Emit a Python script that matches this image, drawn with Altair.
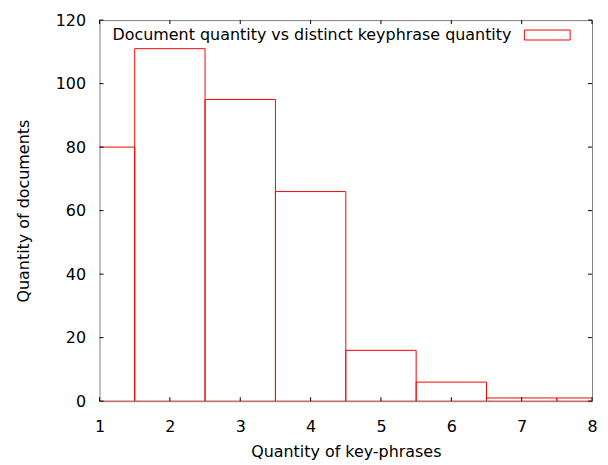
import altair as alt
import pandas as pd

# Data
keyphrases = [1, 2, 3, 4, 5, 6, 7, 8]
documents = [80, 111, 95, 66, 16, 6, 1, 1]
series_name = "Document quantity vs distinct keyphrase quantity"
x_ticks = [1, 2, 3, 4, 5, 6, 7, 8]
y_ticks = [0, 20, 40, 60, 80, 100, 120]

FONT = "DejaVu Sans"
FS = 16
W, H = 495, 383
TICK = 4

bars = pd.DataFrame({"k": keyphrases, "n": documents})
bars["k0"] = bars["k"] - 0.5
bars["k1"] = bars["k"] + 0.5

xscale = alt.Scale(domain=[1, 8], nice=False, zero=False)
yscale = alt.Scale(domain=[0, 120], nice=False)

xaxis = alt.Axis(values=x_ticks, format="d", ticks=False, domain=False, grid=False,
                 labelFont=FONT, labelFontSize=FS, labelColor="black",
                 labelPadding=17, title="Quantity of key-phrases",
                 titleFont=FONT, titleFontSize=FS, titleFontWeight="normal",
                 titleColor="black", titlePadding=10, labelFlush=False)
yaxis = alt.Axis(values=y_ticks, format="d", ticks=False, domain=False, grid=False,
                 labelFont=FONT, labelFontSize=FS, labelColor="black",
                 labelPadding=14, title="Quantity of documents",
                 titleFont=FONT, titleFontSize=FS, titleFontWeight="normal",
                 titleColor="black", titlePadding=24)

base = alt.Chart(bars)

hist = base.mark_rect(stroke="#ff0000", strokeWidth=1, fillOpacity=0, clip=True).encode(
    x=alt.X("k0:Q", scale=xscale, axis=xaxis),
    x2="k1:Q",
    y=alt.Y("n:Q", scale=yscale, axis=yaxis),
    y2=alt.datum(0),
)

xt = pd.DataFrame({"t": x_ticks})
yt = pd.DataFrame({"t": y_ticks})

xtick_bottom = alt.Chart(xt).mark_rule(color="black", strokeWidth=1).encode(
    x=alt.X("t:Q", scale=xscale), y=alt.value(H), y2=alt.value(H - TICK))
xtick_top = alt.Chart(xt).mark_rule(color="black", strokeWidth=1).encode(
    x=alt.X("t:Q", scale=xscale), y=alt.value(0), y2=alt.value(TICK))
ytick_left = alt.Chart(yt).mark_rule(color="black", strokeWidth=1).encode(
    y=alt.Y("t:Q", scale=yscale), x=alt.value(0), x2=alt.value(TICK))
ytick_right = alt.Chart(yt).mark_rule(color="black", strokeWidth=1).encode(
    y=alt.Y("t:Q", scale=yscale), x=alt.value(W), x2=alt.value(W - TICK))

leg = pd.DataFrame({"label": [series_name]})
leg_text = alt.Chart(leg).mark_text(font=FONT, fontSize=FS, align="right",
                                    baseline="middle", color="black").encode(
    text="label:N", x=alt.value(414), y=alt.value(15))
leg_box = alt.Chart(leg).mark_rect(stroke="#ff0000", strokeWidth=1, fillOpacity=0).encode(
    x=alt.value(427), x2=alt.value(473), y=alt.value(10), y2=alt.value(20))

chart = alt.layer(hist, xtick_bottom, xtick_top, ytick_left, ytick_right,
                  leg_text, leg_box).properties(
    width=W, height=H,
    autosize="none",
    padding={"left": 92, "top": 11, "right": 8, "bottom": 60},
    background="white",
).configure_view(stroke="#808080", strokeWidth=1)

chart.save("out.html", embed_options={"renderer": "svg", "actions": False})
